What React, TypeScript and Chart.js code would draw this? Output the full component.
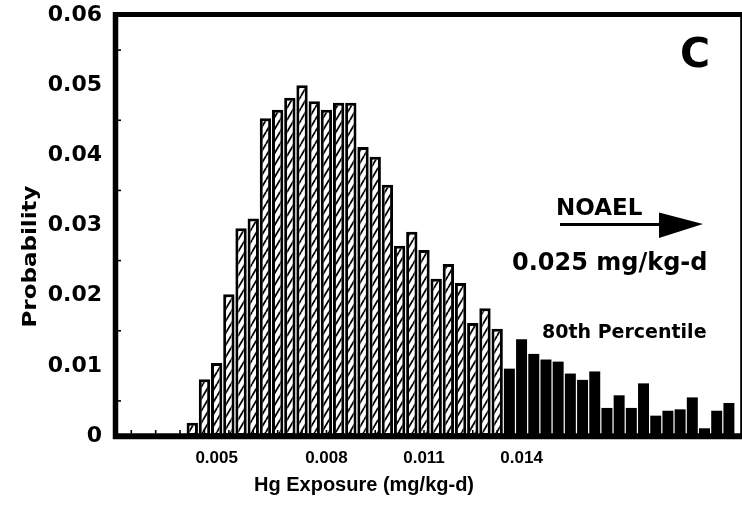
import React, { useEffect, useRef } from "react";
import { Chart, registerables } from "chart.js";

Chart.register(...registerables);

// ---- data ----
const emptyLeadingBins = 6;
const hatchedProbabilities = [
  0.0019, 0.0081, 0.0104, 0.0202, 0.0296, 0.031, 0.0453, 0.0465, 0.0482, 0.05,
  0.0477, 0.0465, 0.0475, 0.0475, 0.0412, 0.0398, 0.0358, 0.0271, 0.0291, 0.0265,
  0.0224, 0.0245, 0.0218, 0.0161, 0.0182, 0.0153,
];
const upperPercentileProbabilities = [
  0.0096, 0.0138, 0.0117, 0.0109, 0.0106, 0.0089, 0.008, 0.0092, 0.004, 0.0058,
  0.004, 0.0075, 0.0029, 0.0036, 0.0038, 0.0055, 0.0011, 0.0036, 0.0047,
];
const xTickLabels = ["0.005", "0.008", "0.011", "0.014"];
const xTickBins = [8, 17, 25, 33];
const yTickLabels = ["0", "0.01", "0.02", "0.03", "0.04", "0.05", "0.06"];
const yMinorTicks = [0.005, 0.015, 0.025, 0.035, 0.045, 0.055];
const xAxisTitle = "Hg Exposure (mg/kg-d)";
const yAxisTitle = "Probability";
const panelLetter = "C";
const noaelLabel = "NOAEL";
const noaelValue = "0.025 mg/kg-d";
const percentileLabel = "80th Percentile";

const totalBins = emptyLeadingBins + hatchedProbabilities.length + upperPercentileProbabilities.length;
const categories: string[] = Array.from({ length: totalBins }, (_, i) => {
  const t = xTickBins.indexOf(i);
  return t >= 0 ? xTickLabels[t] : "";
});
const hatchedData = [
  ...Array(emptyLeadingBins).fill(null),
  ...hatchedProbabilities,
  ...Array(upperPercentileProbabilities.length).fill(null),
];
const blackData = [
  ...Array(emptyLeadingBins + hatchedProbabilities.length).fill(null),
  ...upperPercentileProbabilities,
];

const DEJAVU = "'DejaVu Sans', 'Liberation Sans', sans-serif";
const LIBERATION = "'Liberation Sans', Arial, Helvetica, sans-serif";

function makeHatch(): CanvasPattern | string {
  const w = 7;
  const h = 12;
  const c = document.createElement("canvas");
  c.width = w;
  c.height = h;
  const g = c.getContext("2d");
  if (!g) return "#fff";
  g.fillStyle = "#fff";
  g.fillRect(0, 0, w, h);
  g.strokeStyle = "#000";
  g.lineWidth = 1.8;
  for (const k of [-1, 0, 1]) {
    g.beginPath();
    g.moveTo(k * w, h);
    g.lineTo(k * w + w, 0);
    g.stroke();
  }
  return g.createPattern(c, "repeat") || "#fff";
}

const framePlugin = {
  id: "frame",
  afterDatasetsDraw(chart: any) {
    const { ctx, chartArea, scales } = chart;
    const x = scales.x;
    const y = scales.y;
    const zero = y.getPixelForValue(0);
    ctx.save();
    ctx.strokeStyle = "#000";
    ctx.lineCap = "butt";
    // minor ticks on x axis (every other bin)
    ctx.lineWidth = 1.6;
    for (let i = 1; i < totalBins; i += 2) {
      const px = x.getPixelForValue(i);
      ctx.beginPath();
      ctx.moveTo(px, zero);
      ctx.lineTo(px, zero - 6);
      ctx.stroke();
    }
    // minor ticks on y axis
    for (const v of yMinorTicks) {
      const py = y.getPixelForValue(v);
      ctx.beginPath();
      ctx.moveTo(chartArea.left + 4, py);
      ctx.lineTo(chartArea.left + 8, py);
      ctx.stroke();
    }
    // right border
    ctx.lineWidth = 1.8;
    ctx.beginPath();
    ctx.moveTo(chart.width - 0.9, chartArea.top - 3);
    ctx.lineTo(chart.width - 0.9, zero + 3);
    ctx.stroke();
    // top border
    ctx.lineWidth = 5;
    ctx.beginPath();
    ctx.moveTo(chartArea.left, chartArea.top - 0.5);
    ctx.lineTo(chart.width, chartArea.top - 0.5);
    ctx.stroke();
    // left axis
    ctx.lineWidth = 5.5;
    ctx.beginPath();
    ctx.moveTo(chartArea.left + 2.5, chartArea.top - 3);
    ctx.lineTo(chartArea.left + 2.5, zero + 3);
    ctx.stroke();
    // bottom axis
    ctx.lineWidth = 6;
    ctx.beginPath();
    ctx.moveTo(chartArea.left, zero + 0.3);
    ctx.lineTo(chart.width, zero + 0.3);
    ctx.stroke();
    ctx.restore();
  },
};

const textPlugin = {
  id: "texts",
  afterDraw(chart: any) {
    const { ctx } = chart;
    ctx.save();
    ctx.fillStyle = "#000";
    ctx.textBaseline = "alphabetic";
    ctx.textAlign = "left";

    ctx.font = `bold 41px ${DEJAVU}`;
    ctx.fillText(panelLetter, 680, 67);

    ctx.font = `bold 23px ${DEJAVU}`;
    ctx.fillText(noaelLabel, 556, 215);

    ctx.strokeStyle = "#000";
    ctx.lineWidth = 3;
    ctx.beginPath();
    ctx.moveTo(560, 224.5);
    ctx.lineTo(662, 224.5);
    ctx.stroke();
    ctx.beginPath();
    ctx.moveTo(659, 212.5);
    ctx.lineTo(703, 224);
    ctx.lineTo(659, 238);
    ctx.closePath();
    ctx.fill();

    ctx.font = `bold 24px ${DEJAVU}`;
    ctx.fillText(noaelValue, 512, 269.5);

    ctx.font = `bold 19px ${DEJAVU}`;
    ctx.fillText(percentileLabel, 542, 338);

    ctx.font = `bold 20px ${LIBERATION}`;
    ctx.fillText(xAxisTitle, 254, 491);

    ctx.save();
    ctx.translate(36, 256.5);
    ctx.rotate(-Math.PI / 2);
    ctx.scale(1.15, 1);
    ctx.textAlign = "center";
    ctx.font = `bold 20px ${DEJAVU}`;
    ctx.fillText(yAxisTitle, 0, 0);
    ctx.restore();

    ctx.restore();
  },
};

export default function App() {
  const ref = useRef<HTMLCanvasElement | null>(null);

  useEffect(() => {
    const canvas = ref.current;
    if (!canvas) return;
    const hatch = makeHatch();
    const chart = new Chart(canvas, {
      type: "bar",
      data: {
        labels: categories,
        datasets: [
          {
            label: "Below 80th percentile",
            data: hatchedData,
            backgroundColor: hatch as any,
            borderColor: "#000",
            borderWidth: 3,
            borderSkipped: false,
            barPercentage: 0.93,
            categoryPercentage: 1,
            grouped: false,
          },
          {
            label: "Above 80th percentile",
            data: blackData,
            backgroundColor: "#000",
            borderWidth: 0,
            barPercentage: 0.9,
            categoryPercentage: 1,
            grouped: false,
          },
        ],
      },
      options: {
        responsive: false,
        animation: false,
        devicePixelRatio: 1,
        layout: { padding: { top: 15, right: 7, left: 0, bottom: 0 } },
        plugins: {
          legend: { display: false },
          tooltip: { enabled: false },
        },
        scales: {
          x: {
            type: "category",
            offset: true,
            grid: { display: false, drawTicks: false, tickLength: 0 },
            border: { display: false },
            ticks: {
              autoSkip: false,
              maxRotation: 0,
              minRotation: 0,
              padding: 12,
              color: "#000",
              font: { family: LIBERATION, size: 17, weight: "bold" },
            },
            afterFit: (s: any) => {
              s.height = 69;
              s.paddingLeft = 0;
              s.paddingRight = 0;
            },
          },
          y: {
            min: 0,
            max: 0.06,
            grid: { display: false, drawTicks: false, tickLength: 0 },
            border: { display: false },
            ticks: {
              stepSize: 0.01,
              padding: 11,
              color: "#000",
              font: { family: DEJAVU, size: 22, weight: "bold" },
              callback: (_v: any, i: number) => yTickLabels[i],
            },
            afterFit: (s: any) => {
              s.width = 113;
              s.paddingTop = 0;
              s.paddingBottom = 0;
            },
          },
        },
      },
      plugins: [framePlugin, textPlugin],
    });
    return () => chart.destroy();
  }, []);

  return (
    <div style={{ position: "absolute", left: 0, top: 0, width: 742, height: 505, background: "#fff" }}>
      <canvas ref={ref} width={742} height={505} style={{ display: "block" }} />
    </div>
  );
}
